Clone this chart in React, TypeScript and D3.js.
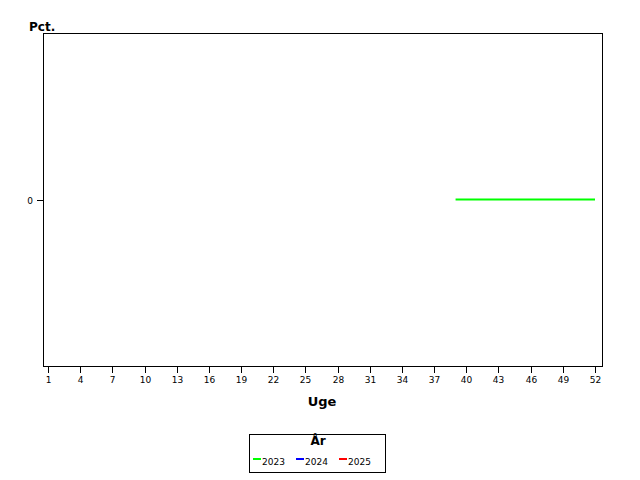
import * as d3 from 'd3';
import { type FC } from 'react';

// Weeks 1..52
const weeks: number[] = d3.range(1, 53);
const weekTicks: number[] = [1, 4, 7, 10, 13, 16, 19, 22, 25, 28, 31, 34, 37, 40, 43, 46, 49, 52];

// Values per year (null = no data)
const values2023: (number | null)[] = [
  null, null, null, null, null, null, null, null, null, null,
  null, null, null, null, null, null, null, null, null, null,
  null, null, null, null, null, null, null, null, null, null,
  null, null, null, null, null, null, null, null,
  0, 0, 0, 0, 0, 0, 0, 0, 0, 0, 0, 0, 0, 0,
];
const values2024: (number | null)[] = [];
const values2025: (number | null)[] = [];

const yearNames = ['2023', '2024', '2025'];
const yearColors = ['#00ff00', '#0000ff', '#ff0000'];
const yearValues = [values2023, values2024, values2025];

const W = 640;
const H = 480;
const frame = { left: 43, right: 602, top: 33, bottom: 366 };
const font = '"DejaVu Sans", Verdana, sans-serif';

const App: FC = () => {
  const x = d3.scaleLinear().domain([1, 52]).range([48, 595]);
  const y = d3.scaleLinear().domain([-1, 1]).range([frame.bottom, frame.top]);

  const line = d3
    .line<number | null>()
    .defined((d) => d !== null)
    .x((_, i) => x(weeks[i]))
    .y((d) => y(d as number));

  return (
    <svg
      width={W}
      height={H}
      style={{ position: 'absolute', left: 0, top: 0, background: '#fff' }}
      fontFamily={font}
    >
      <rect x={0} y={0} width={W} height={H} fill="#fff" />

      {/* series */}
      {yearValues.map((vals, i) => (
        <path
          key={yearNames[i]}
          d={line(vals) || ''}
          fill="none"
          stroke={yearColors[i]}
          strokeWidth={2}
        />
      ))}

      {/* frame */}
      <rect
        x={frame.left + 0.5}
        y={frame.top + 0.5}
        width={frame.right - frame.left}
        height={frame.bottom - frame.top}
        fill="none"
        stroke="#000"
        strokeWidth={1}
      />

      {/* x axis ticks */}
      {weekTicks.map((w) => (
        <g key={w} transform={`translate(${Math.round(x(w)) + 0.5},0)`}>
          <line y1={frame.bottom} y2={frame.bottom + 7} stroke="#000" />
          <text y={frame.bottom + 17} textAnchor="middle" fontSize={9} fill="#000">
            {w}
          </text>
        </g>
      ))}

      {/* y axis tick */}
      {[0].map((v) => (
        <g key={v} transform={`translate(0,${Math.round(y(v)) + 0.5})`}>
          <line x1={frame.left - 6} x2={frame.left} stroke="#000" />
          <text x={frame.left - 10} dy="0.35em" textAnchor="end" fontSize={9} fill="#000">
            {v}
          </text>
        </g>
      ))}

      {/* axis titles */}
      <text x={29} y={31} fontSize={12} fontWeight="bold" fill="#000">
        Pct.
      </text>
      <text x={322} y={406} textAnchor="middle" fontSize={13} fontWeight="bold" fill="#000">
        Uge
      </text>

      {/* legend */}
      <g>
        <rect x={249.5} y={434.5} width={136} height={38} fill="#fff" stroke="#000" />
        <text x={318} y={445} textAnchor="middle" fontSize={12} fontWeight="bold" fill="#000">
          År
        </text>
        {yearNames.map((name, i) => {
          const lx = 253 + i * 43;
          return (
            <g key={name}>
              <line x1={lx} x2={lx + 8} y1={459} y2={459} stroke={yearColors[i]} strokeWidth={2} />
              <text x={lx + 9} y={465} fontSize={9} fill="#000">
                {name}
              </text>
            </g>
          );
        })}
      </g>
    </svg>
  );
};

export default App;
